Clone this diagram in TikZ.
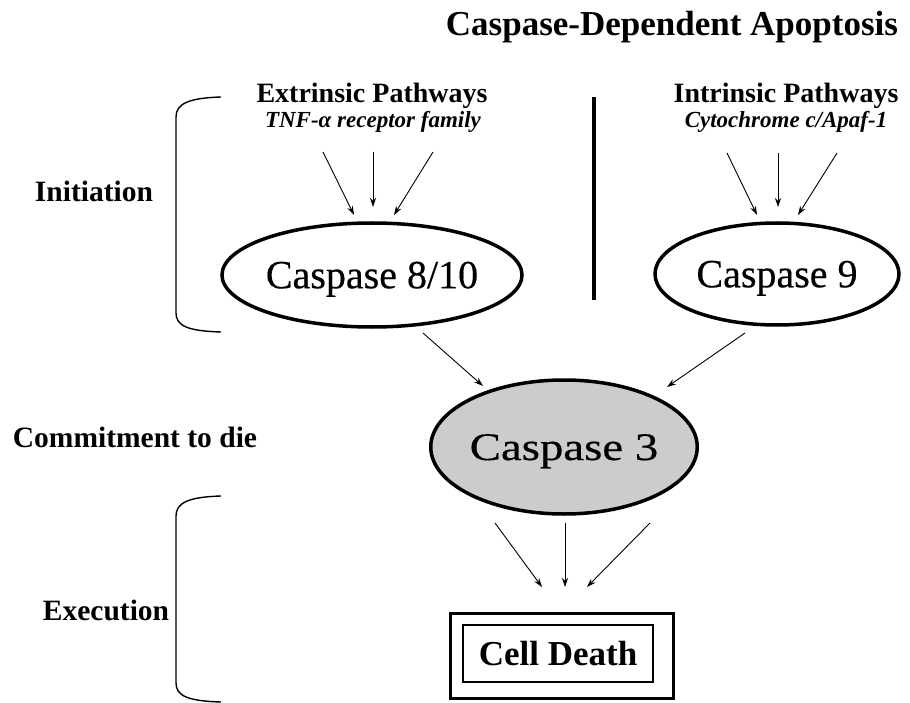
\documentclass[tikz,border=0pt]{standalone}
\usepackage{fontspec}
\setmainfont{Liberation Serif}
\newfontfamily\casfont[FakeBold=0.4]{Liberation Serif}
\newfontfamily\casfontwide[FakeBold=0.4,FakeStretch=1.2]{Liberation Serif}
\usetikzlibrary{shapes.geometric,arrows.meta}
\begin{document}
\begin{tikzpicture}[x=1pt,y=-1pt,
  ell/.style={ellipse, draw, line width=3.5pt, inner sep=0pt, text height=26.5pt, text depth=0pt},
  arr/.style={-{Stealth[length=9pt,width=6pt]}, line width=0.9pt},
  lab/.style={font=\fontsize{29.5}{32}\selectfont\bfseries, anchor=base, inner sep=0pt},
  head/.style={font=\fontsize{28}{32}\selectfont\bfseries, anchor=base, inner sep=0pt},
  sub/.style={font=\fontsize{23}{26}\selectfont\bfseries\itshape, anchor=base, inner sep=0pt},
  brace/.style={line width=1.4pt},
  cas/.style={font=\fontsize{40}{44}\selectfont\casfont}
]
\useasboundingbox (0,0) rectangle (910,703);

% title
\node[anchor=base, inner sep=0pt, font=\fontsize{35}{40}\selectfont\bfseries] (title) at (672,36) {Caspase-Dependent Apoptosis};

% headings
\node[head] (ext) at (372,103) {Extrinsic Pathways};
\node[sub]  (tnf) at (373,128) {TNF-α receptor family};
\node[head] (int) at (786,103) {Intrinsic Pathways};
\node[sub]  (cyt) at (786,128) {Cytochrome c/Apaf-1};

% stage labels
\node[lab] (init) at (94,202) {Initiation};
\node[lab] (comm) at (135,447) {Commitment to die};
\node[lab] (exec) at (106,620) {Execution};

% brackets
\draw[brace] (221,97) .. controls (188,98) and (176,104) .. (176,117) -- (176,313) .. controls (176,326) and (188,331) .. (221,332);
\draw[brace] (221,496) .. controls (188,497) and (176,503) .. (176,516) -- (176,683) .. controls (176,696) and (188,701) .. (221,702);

% divider
\draw[line width=4pt] (594,97) -- (594,300);

% caspases
\node[ell, minimum width=240pt, minimum height=104pt, cas] (c810) at (372,275) {Caspase 8/10};
\node[ell, minimum width=244pt, minimum height=102pt, cas] (c9) at (777,274) {Caspase 9};
\node[ell, minimum width=238pt, minimum height=134pt, fill=black!20, text height=26pt, font=\fontsize{39}{44}\selectfont\casfontwide] (c3) at (564,447) {Caspase 3};

% cell death
\node[draw, line width=3pt, minimum width=223pt, minimum height=85pt] (cdo) at (561.5,655.5) {};
\node[draw, line width=2.5pt, minimum width=190pt, minimum height=57pt, font=\fontsize{35}{40}\selectfont\bfseries] (cd) at (558,653.5) {Cell Death};

% arrow coordinates
\coordinate (l1s) at (323,152); \coordinate (l1e) at (354,215);
\coordinate (l2s) at (373,152); \coordinate (l2e) at (373,207);
\coordinate (l3s) at (433,152); \coordinate (l3e) at (394,215);
\coordinate (r1s) at (727,153); \coordinate (r1e) at (757,215);
\coordinate (r2s) at (778,153); \coordinate (r2e) at (778,207);
\coordinate (r3s) at (837,153); \coordinate (r3e) at (798,215);
\coordinate (m1s) at (423,333); \coordinate (m1e) at (483,386);
\coordinate (m2s) at (745,333); \coordinate (m2e) at (667,387);
\coordinate (b1s) at (495,523); \coordinate (b1e) at (542,587);
\coordinate (b2s) at (565,523); \coordinate (b2e) at (565,587);
\coordinate (b3s) at (650,523); \coordinate (b3e) at (587,587);

\draw[arr] (l1s) -- (l1e);
\draw[arr] (l2s) -- (l2e);
\draw[arr] (l3s) -- (l3e);
\draw[arr] (r1s) -- (r1e);
\draw[arr] (r2s) -- (r2e);
\draw[arr] (r3s) -- (r3e);
\draw[arr] (m1s) -- (m1e);
\draw[arr] (m2s) -- (m2e);
\draw[arr] (b1s) -- (b1e);
\draw[arr] (b2s) -- (b2e);
\draw[arr] (b3s) -- (b3e);
\end{tikzpicture}
\end{document}
